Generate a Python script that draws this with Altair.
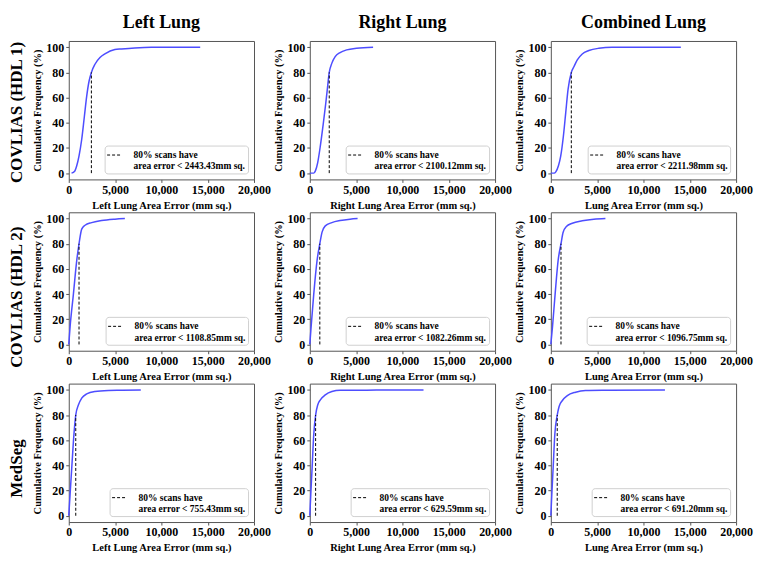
import altair as alt
import pandas as pd

FONT = "Liberation Serif"

row_labels = ["COVLIAS (HDL 1)", "COVLIAS (HDL 2)", "MedSeg"]
col_labels = ["Left Lung", "Right Lung", "Combined Lung"]
x_titles = ["Left Lung Area Error (mm sq.)", "Right Lung Area Error (mm sq.)", "Lung Area Error (mm sq.)"]
y_title = "Cumulative Frequency (%)"
x_ticks = [0, 5000, 10000, 15000, 20000]
y_ticks = [0, 20, 40, 60, 80, 100]

thresholds = [
    [2443.43, 2100.12, 2211.98],
    [1108.85, 1082.26, 1096.75],
    [755.43, 629.59, 691.20],
]

# COVLIAS (HDL 1)
hdl1_left_x = [300, 640, 860, 1110, 1400, 1685, 1935, 2190, 2443, 2830, 3370, 3900, 4980, 5700, 7130, 8920, 14190]
hdl1_left_y = [0, 1.5, 5.8, 13.7, 26.9, 45, 61, 73, 80, 86.5, 91.8, 94.7, 98.2, 98.7, 99.5, 100, 100]
hdl1_right_x = [0, 427, 605, 854, 1139, 1423, 1708, 1850, 2100, 2384, 2740, 3274, 3986, 5053, 6833]
hdl1_right_y = [0, 0, 1.8, 8.4, 21.6, 37.4, 54.5, 63.7, 80, 87.4, 92.6, 95.8, 97.9, 99.2, 100]
hdl1_comb_x = [0, 357, 536, 821, 1071, 1357, 1607, 1857, 2212, 2500, 2857, 3393, 4107, 5179, 6607, 14036]
hdl1_comb_y = [0, 0, 1, 5.8, 13.7, 29.5, 47.9, 66.3, 80, 84.7, 90, 94.7, 97.4, 99.2, 100, 100]

# COVLIAS (HDL 2)
hdl2_left_x = [0, 143, 502, 860, 1109, 1398, 1756, 2473, 3548, 4982, 6057]
hdl2_left_y = [0, 13.9, 40, 66.6, 80, 91.6, 94.7, 96.8, 98.4, 99.5, 100]
hdl2_right_x = [0, 142, 427, 783, 1082, 1317, 1673, 2384, 3274, 4342, 5160]
hdl2_right_y = [0, 14, 40, 66.6, 80, 89, 94.2, 96.8, 98.4, 99.5, 100]
hdl2_comb_x = [0, 179, 464, 786, 1097, 1321, 1679, 2321, 3393, 4643, 5893]
hdl2_comb_y = [0, 14, 40, 66.6, 80, 89, 93.7, 96.3, 98.2, 99.5, 100]

# MedSeg
med_left_x = [0, 143, 323, 502, 755, 1039, 1398, 1935, 2832, 4265, 5699, 7778]
med_left_y = [0, 17, 38, 59, 80, 88, 93.4, 96.8, 98.7, 99.5, 99.7, 100]
med_right_x = [0, 107, 249, 427, 630, 854, 1139, 1673, 2384, 3274, 5409, 8968, 12278]
med_right_y = [0, 17, 38, 64.5, 80, 88, 92.1, 96, 98.7, 99.7, 99.7, 100, 100]
med_comb_x = [0, 107, 250, 429, 691, 893, 1250, 1786, 2679, 3750, 6250, 12321]
med_comb_y = [0, 17, 38, 64.5, 80, 86.8, 91.6, 95.5, 98.2, 99.5, 99.7, 100]

curves = [
    [(hdl1_left_x, hdl1_left_y), (hdl1_right_x, hdl1_right_y), (hdl1_comb_x, hdl1_comb_y)],
    [(hdl2_left_x, hdl2_left_y), (hdl2_right_x, hdl2_right_y), (hdl2_comb_x, hdl2_comb_y)],
    [(med_left_x, med_left_y), (med_right_x, med_right_y), (med_comb_x, med_comb_y)],
]


def panel(r, c):
    xs, ys = curves[r][c]
    thr = thresholds[r][c]
    df = pd.DataFrame({"err": xs, "freq": ys})
    xscale = alt.Scale(domain=[0, 20000], nice=False, zero=False)
    yscale = alt.Scale(domain=[-5, 105], nice=False, zero=False)
    xaxis = alt.Axis(values=x_ticks, format=",d", title=x_titles[c])
    yaxis = alt.Axis(values=y_ticks, format="d", title=y_title)
    line = alt.Chart(df).mark_line(color="#4d4dff", strokeWidth=1.5, interpolate="monotone").encode(
        x=alt.X("err:Q", scale=xscale, axis=xaxis),
        y=alt.Y("freq:Q", scale=yscale, axis=yaxis),
    )
    label = "80% scans have|area error < {:.2f}mm sq.".format(thr)
    rdf = pd.DataFrame({"err": [thr], "freq": [0], "top": [80], "lab": [label]})
    rule = alt.Chart(rdf).mark_rule(color="black", strokeWidth=1).encode(
        x=alt.X("err:Q", scale=xscale, axis=xaxis),
        y=alt.Y("freq:Q", scale=yscale, axis=yaxis),
        y2="top:Q",
        strokeDash=alt.StrokeDash(
            "lab:N",
            scale=alt.Scale(range=[[3, 2]]),
            legend=alt.Legend(
                title=None, orient="bottom-right", offset=6,
                labelExpr="split(datum.label, '|')",
                labelFont=FONT, labelFontWeight="bold", labelFontSize=9.5, labelColor="black",
                labelLimit=400, labelOffset=12,
                symbolType="stroke", symbolSize=196, symbolStrokeWidth=1, symbolStrokeColor="black",
                strokeColor="#d0d0d0", fillColor="white", padding=2, cornerRadius=3,
            ),
        ),
    )
    ch = alt.layer(line, rule).properties(width=186, height=139)
    if r == 0:
        ch = ch.properties(title=alt.TitleParams(col_labels[c], fontSize=18, font=FONT,
                                                 fontWeight="bold", color="black", offset=9))
    return ch.resolve_scale(strokeDash="independent")


rows = []
for r in range(3):
    row = alt.hconcat(
        *[panel(r, c) for c in range(3)],
        spacing=56, bounds="flush",
        title=alt.TitleParams(row_labels[r], orient="left", anchor="middle", fontSize=17, font=FONT,
                              fontWeight="bold", color="black", offset=6),
    ).resolve_scale(strokeDash="independent").resolve_legend(strokeDash="independent")
    rows.append(row)

chart = alt.vconcat(
    *rows, spacing=0, background="white",
    padding={"left": 0, "top": 4, "right": 5, "bottom": 5},
).resolve_scale(strokeDash="independent").resolve_legend(strokeDash="independent").configure_view(
    stroke="#555555", strokeWidth=1
).configure_axis(
    labelFont=FONT, labelFontWeight="bold", labelFontSize=12, labelColor="black",
    titleFont=FONT, titleFontWeight="bold", titleFontSize=10.5, titleColor="black",
    grid=False, domain=False, tickColor="#555555", tickSize=3, labelPadding=2,
    labelFlush=False, labelOverlap=False,
).configure_axisX(titlePadding=5).configure_axisY(titlePadding=3)

chart.save("out.html", embed_options={"renderer": "svg", "actions": False})
